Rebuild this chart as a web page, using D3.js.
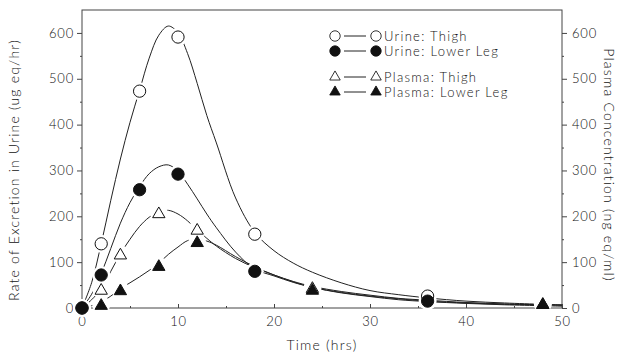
<!DOCTYPE html>
<html>
<head>
<meta charset="utf-8">
<script src="https://cdn.jsdelivr.net/npm/d3@7"></script>
<style>
  body { margin: 0; background: #fff; }
  text { font-family: Lato, "DejaVu Sans", sans-serif; font-weight: 300; fill: #111; }
</style>
</head>
<body>
<div id="chart"></div>
<script>
// measured points (time in hrs)
var urineTimes = [0, 2, 6, 10, 18, 36];
var urineThigh = [0, 140, 473, 591, 161, 26];
var urineLowerLeg = [0, 72, 258, 292, 80, 15];

var plasmaTimes = [2, 4, 8, 12, 24, 48];
var plasmaThigh = [40, 117, 207, 171, 44, 9];
var plasmaLowerLeg = [7, 39, 92, 144, 40, 9];

// fitted curves
var curveTimes = [0, 1, 2, 3, 4, 5, 6, 7, 8, 9, 10, 11, 12, 13, 14, 16, 18, 20, 22, 24, 27, 30, 33, 36, 40, 44, 48, 50];
var fitUrineThigh = [0, 55, 140, 235, 325, 405, 475, 545, 595, 615, 600, 555, 490, 420, 360, 240, 165, 125, 98, 78, 55, 38, 29, 22, 15, 11, 8, 7];
var fitUrineLowerLeg = [0, 30, 75, 130, 185, 230, 265, 293, 308, 312, 298, 270, 238, 205, 175, 122, 85, 70, 56, 45, 33, 25, 18, 14, 10, 7, 5, 4];
var fitPlasmaThigh = [0, 18, 42, 80, 118, 150, 178, 198, 210, 213, 205, 190, 170, 152, 135, 108, 88, 72, 58, 47, 36, 28, 21, 17, 12, 9, 7, 6];
var fitPlasmaLowerLeg = [0, 5, 13, 26, 42, 55, 68, 82, 98, 117, 133, 147, 150, 146, 137, 112, 90, 72, 57, 45, 34, 26, 20, 15, 11, 8, 7, 6];

var xTicks = [0, 10, 20, 30, 40, 50];
var yTicks = [0, 100, 200, 300, 400, 500, 600];

var legendLabels = ["Urine: Thigh", "Urine: Lower Leg", "Plasma: Thigh", "Plasma: Lower Leg"];

var margin = { left: 82, right: 64, top: 10, bottom: 48 };
var width = 626 - margin.left - margin.right;
var height = 356 - margin.top - margin.bottom;

var svg = d3.select("#chart").append("svg")
  .attr("width", 626)
  .attr("height", 356);

var g = svg.append("g")
  .attr("transform", "translate(" + margin.left + "," + margin.top + ")");

var x = d3.scaleLinear().domain([0, 50]).range([0, width]);
var y = d3.scaleLinear().domain([0, 650]).range([height, 0]);

// frame
g.append("rect")
  .attr("width", width).attr("height", height)
  .attr("fill", "none").attr("stroke", "#444").attr("stroke-width", 1);

// left axis
var yAxisL = g.append("g")
  .call(d3.axisLeft(y).tickValues(yTicks).tickSize(5).tickPadding(3));
var yMinorL = g.append("g")
  .call(d3.axisLeft(y).tickValues([50, 150, 250, 350, 450, 550]).tickSize(2).tickFormat(""));

// right axis
var yAxisR = g.append("g")
  .attr("transform", "translate(" + width + ",0)")
  .call(d3.axisRight(y).tickValues(yTicks).tickSize(5).tickPadding(5));
var yMinorR = g.append("g")
  .attr("transform", "translate(" + width + ",0)")
  .call(d3.axisRight(y).tickValues([50, 150, 250, 350, 450, 550]).tickSize(2).tickFormat(""));

// bottom axis, ticks inward
var xAxis = g.append("g")
  .attr("transform", "translate(0," + height + ")")
  .call(d3.axisBottom(x).tickValues(xTicks).tickSizeInner(-4).tickSizeOuter(0).tickPadding(9));
var xMinor = g.append("g")
  .attr("transform", "translate(0," + height + ")")
  .call(d3.axisBottom(x).tickValues([5, 15, 25, 35, 45]).tickSizeInner(-2).tickSizeOuter(0).tickFormat(""));

[yAxisL, yMinorL, yAxisR, yMinorR, xAxis, xMinor].forEach(function (a) {
  a.select(".domain").remove();
  a.selectAll("line").attr("stroke", "#444");
  a.selectAll("text").attr("font-size", "13px").attr("fill", "#111")
    .style("font-family", "Lato, 'DejaVu Sans', sans-serif").style("font-weight", 300)
    .attr("letter-spacing", "0.8px");
});

// axis titles
g.append("text")
  .attr("x", width / 2).attr("y", height + 42)
  .attr("text-anchor", "middle").attr("font-size", "14px")
  .attr("letter-spacing", "1.2px")
  .text("Time (hrs)");

g.append("text")
  .attr("transform", "rotate(-90)")
  .attr("x", -160).attr("y", -63)
  .attr("text-anchor", "middle").attr("font-size", "14px")
  .attr("letter-spacing", "1.2px")
  .text("Rate of Excretion in Urine (ug eq/hr)");

g.append("text")
  .attr("transform", "translate(" + (width + 42) + "," + 155 + ") rotate(90)")
  .attr("text-anchor", "middle").attr("font-size", "14px")
  .attr("letter-spacing", "1.2px")
  .text("Plasma Concentration (ng eq/ml)");

// curves
var line = d3.line()
  .x(function (d) { return x(d[0]); })
  .y(function (d) { return y(d[1]); })
  .curve(d3.curveCatmullRom.alpha(0.5));

var fits = [fitUrineThigh, fitUrineLowerLeg, fitPlasmaThigh, fitPlasmaLowerLeg];
fits.forEach(function (f) {
  g.append("path")
    .datum(curveTimes.map(function (t, i) { return [t, f[i]]; }))
    .attr("d", line)
    .attr("fill", "none")
    .attr("stroke", "#222")
    .attr("stroke-width", 1);
});

// markers
var series = [
  { times: urineTimes, values: urineThigh, shape: "circle", filled: false },
  { times: urineTimes, values: urineLowerLeg, shape: "circle", filled: true },
  { times: plasmaTimes, values: plasmaThigh, shape: "triangle", filled: false },
  { times: plasmaTimes, values: plasmaLowerLeg, shape: "triangle", filled: true }
];

function symbolPath(shape) {
  if (shape === "circle") return d3.symbol().type(d3.symbolCircle).size(118)();
  return d3.symbol().type(d3.symbolTriangle).size(66)();
}

function pts(s) {
  return s.times.map(function (t, i) { return [t, s.values[i]]; });
}

// white halos so curves stop short of markers
series.forEach(function (s) {
  g.selectAll(null).data(pts(s)).enter().append("circle")
    .attr("cx", function (d) { return x(d[0]); })
    .attr("cy", function (d) { return y(d[1]); })
    .attr("r", 9)
    .attr("fill", "#fff");
});

series.forEach(function (s) {
  g.selectAll(null).data(pts(s)).enter().append("path")
    .attr("d", symbolPath(s.shape))
    .attr("transform", function (d) { return "translate(" + x(d[0]) + "," + (y(d[1]) + (s.shape === "triangle" ? 1 : 0)) + ")"; })
    .attr("fill", s.filled ? "#111" : "#fff")
    .attr("stroke", "#111")
    .attr("stroke-width", 1);
});

// legend
var legendY = [36, 51, 77, 92];
var lg = svg.append("g");
series.forEach(function (s, i) {
  var row = lg.append("g").attr("transform", "translate(0," + legendY[i] + ")");
  row.append("path").attr("d", symbolPath(s.shape))
    .attr("transform", "translate(335,0) scale(0.85)")
    .attr("fill", s.filled ? "#111" : "#fff").attr("stroke", "#111");
  row.append("line").attr("x1", 344).attr("x2", 366).attr("y1", 0).attr("y2", 0)
    .attr("stroke", "#222");
  row.append("path").attr("d", symbolPath(s.shape))
    .attr("transform", "translate(376,0) scale(0.85)")
    .attr("fill", s.filled ? "#111" : "#fff").attr("stroke", "#111");
  row.append("text").attr("x", 384).attr("y", 5)
    .attr("font-size", "13px").attr("letter-spacing", "1.3px")
    .text(legendLabels[i]);
});
</script>
</body>
</html>
